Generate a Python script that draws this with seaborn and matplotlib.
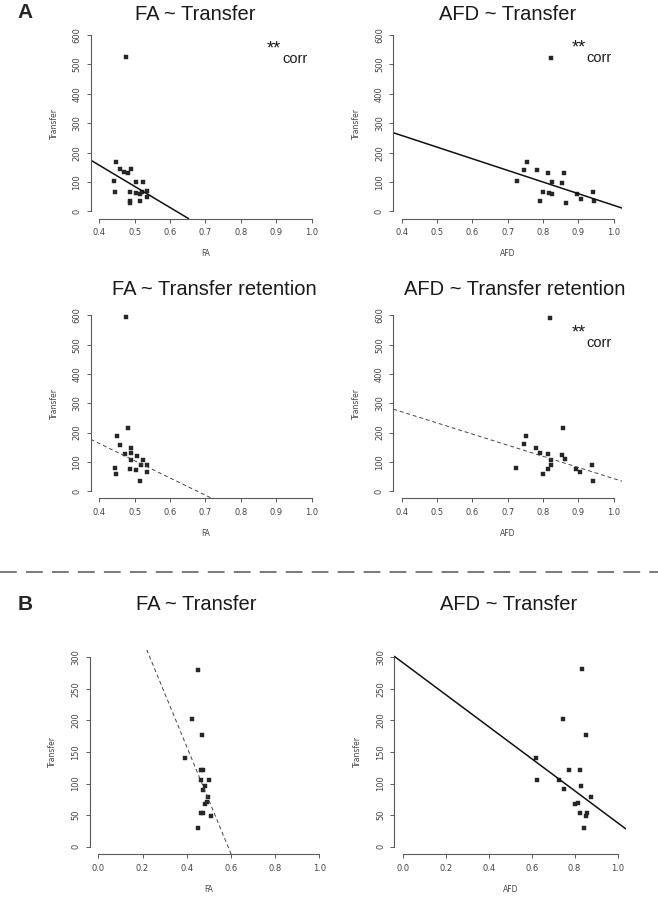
import numpy as np
import pandas as pd
import matplotlib
matplotlib.use("Agg")
import matplotlib.pyplot as plt
from matplotlib.lines import Line2D
import seaborn as sns

# ---- data ----
# A: FA ~ Transfer
fa_transfer_x = [0.476, 0.448, 0.458, 0.471, 0.481, 0.490, 0.442, 0.505, 0.524, 0.445,
                 0.486, 0.504, 0.516, 0.521, 0.535, 0.534, 0.487, 0.487, 0.515]
fa_transfer_y = [524, 168, 143, 134, 132, 143, 104, 99, 101, 67,
                 66, 64, 59, 65, 70, 48, 35, 30, 37]
# A: AFD ~ Transfer
afd_transfer_x = [0.821, 0.754, 0.747, 0.782, 0.815, 0.858, 0.725, 0.824, 0.853, 0.800,
                  0.816, 0.824, 0.895, 0.906, 0.940, 0.943, 0.792, 0.864]
afd_transfer_y = [521, 167, 142, 141, 131, 130, 103, 99, 97, 66,
                  64, 58, 61, 43, 67, 36, 34, 28]
# A: FA ~ Transfer retention
fa_retention_x = [0.476, 0.482, 0.449, 0.459, 0.472, 0.490, 0.489, 0.490, 0.506, 0.525,
                  0.444, 0.447, 0.488, 0.505, 0.518, 0.536, 0.534, 0.516]
fa_retention_y = [593, 215, 187, 159, 127, 148, 130, 108, 120, 107,
                  80, 59, 75, 72, 88, 88, 65, 34]
# A: AFD ~ Transfer retention
afd_retention_x = [0.820, 0.857, 0.752, 0.747, 0.781, 0.791, 0.814, 0.852, 0.823, 0.863,
                   0.822, 0.815, 0.724, 0.800, 0.894, 0.904, 0.939, 0.942]
afd_retention_y = [591, 216, 188, 160, 149, 130, 127, 123, 108, 110,
                   89, 76, 80, 60, 74, 66, 89, 34]
# B: FA ~ Transfer
fa_b_x = [0.453, 0.426, 0.471, 0.394, 0.467, 0.476, 0.464, 0.499, 0.482,
          0.476, 0.496, 0.494, 0.482, 0.467, 0.476, 0.512, 0.450]
fa_b_y = [280, 202, 176, 140, 121, 121, 105, 105, 96,
          90, 78, 70, 67, 54, 53, 49, 30]
# B: AFD ~ Transfer
afd_b_x = [0.836, 0.746, 0.853, 0.619, 0.623, 0.775, 0.825, 0.729, 0.752,
           0.830, 0.876, 0.802, 0.816, 0.825, 0.859, 0.853, 0.843]
afd_b_y = [281, 202, 177, 140, 105, 121, 122, 105, 91,
           96, 78, 67, 69, 54, 53, 48, 30]

# fitted lines (intercept, slope) as drawn in the figure
fit_intercept = [445.3, 416.7, 398.5, 422.9, 497.0, 291.0]
fit_slope = [-720.0, -396.0, -589.0, -380.0, -846.0, -253.0]

titles = ["FA ~ Transfer", "AFD ~ Transfer", "FA ~ Transfer retention",
          "AFD ~ Transfer retention", "FA ~ Transfer", "AFD ~ Transfer"]
xlabels = ["FA", "AFD", "FA", "AFD", "FA", "AFD"]
dashed = [False, False, True, True, True, False]
corr_flag = [True, True, False, True, False, False]

a_xticks = [0.4, 0.5, 0.6, 0.7, 0.8, 0.9, 1.0]
a_yticks = [0, 100, 200, 300, 400, 500, 600]
b_xticks = [0.0, 0.2, 0.4, 0.6, 0.8, 1.0]
b_yticks = [0, 50, 100, 150, 200, 250, 300]

panels = [
    (fa_transfer_x, fa_transfer_y),
    (afd_transfer_x, afd_transfer_y),
    (fa_retention_x, fa_retention_y),
    (afd_retention_x, afd_retention_y),
    (fa_b_x, fa_b_y),
    (afd_b_x, afd_b_y),
]

sns.set_style("white")
plt.rcParams['font.family'] = ['DejaVu Sans']

W, H = 658, 899
fig = plt.figure(figsize=(W / 100, H / 100), dpi=100)

# axes boxes in pixels: left, top, right, bottom
boxes = [
    (90.7, 28.0, 320.2, 218.5),
    (393.3, 28.0, 622.3, 218.5),
    (90.7, 308.4, 320.2, 498.2),
    (393.3, 308.4, 622.3, 498.2),
    (89.5, 649.5, 328.0, 854.3),
    (394.4, 649.5, 626.1, 854.3),
]
# title centres in pixels
title_pos = [(195, 14), (507.7, 14), (214, 289.5), (515, 289.5), (196, 604), (509, 604)]
corr_pos = [(267, 63), (571.7, 62), None, (571.7, 347), None, None]

grey = '#5a5a5a'
for i, ((xs, ys), (l, t, r, b)) in enumerate(zip(panels, boxes)):
    ax = fig.add_axes([l / W, 1 - b / H, (r - l) / W, (b - t) / H])
    df = pd.DataFrame({'x': xs, 'y': ys})
    sns.scatterplot(data=df, x='x', y='y', ax=ax, marker='s', s=9,
                    color='#262626', linewidth=0.3, edgecolor='#262626')
    ax.axline((0, fit_intercept[i]), slope=fit_slope[i], color='#111111' if not dashed[i] else '#444444',
              lw=1.1 if not dashed[i] else 0.7, ls=(0, (4, 3)) if dashed[i] else '-')
    if i < 4:
        xt, yt = a_xticks, a_yticks
    else:
        xt, yt = b_xticks, b_yticks
    xr = xt[-1] - xt[0]
    yr = yt[-1] - yt[0]
    ax.set_xlim(xt[0] - 0.04 * xr, xt[-1] + 0.04 * xr)
    ax.set_ylim(yt[0] - 0.04 * yr, yt[-1] + 0.04 * yr)
    ax.set_xticks(xt)
    ax.set_yticks(yt)
    ax.set_xticklabels([f"{v:.1f}" for v in xt])
    ax.set_yticklabels([str(v) for v in yt])
    for s in ['top', 'right']:
        ax.spines[s].set_visible(False)
    ax.spines['left'].set_bounds(yt[0], yt[-1])
    ax.spines['bottom'].set_bounds(xt[0], xt[-1])
    for s in ['left', 'bottom']:
        ax.spines[s].set_color(grey)
        ax.spines[s].set_linewidth(0.8)
    ax.tick_params(axis='both', direction='out', length=3.2, width=0.7, color=grey,
                   labelsize=6, labelcolor='#444444', pad=3.5, left=True, bottom=True)
    plt.setp(ax.get_yticklabels(), rotation=90, va='center', ha='right')
    ax.set_xlabel(xlabels[i], fontsize=5.5, color='#444444', labelpad=9)
    ax.set_ylabel('Transfer', fontsize=5.5, color='#444444', labelpad=10)
    ax.set_facecolor('white')

    tx, ty = title_pos[i]
    fig.text(tx / W, 1 - ty / H, titles[i], fontsize=14.5, family='Liberation Sans',
             color='#1a1a1a', ha='center', va='center')
    if corr_flag[i]:
        cx, cy = corr_pos[i]
        fig.text(cx / W, 1 - (cy - 10) / H, '**', fontsize=13, family='Liberation Sans',
                 color='#1a1a1a', ha='left', va='baseline')
        fig.text((cx + 15) / W, 1 - cy / H, 'corr', fontsize=10.5, family='Liberation Sans',
                 color='#1a1a1a', ha='left', va='baseline')

# panel letters
fig.text(25 / W, 1 - 13 / H, 'A', fontsize=15, fontweight='bold', family='Liberation Sans',
         ha='center', va='center')
fig.text(25 / W, 1 - 604 / H, 'B', fontsize=15, fontweight='bold', family='Liberation Sans',
         ha='center', va='center')

# separator between A and B
fig.add_artist(Line2D([0, 1], [1 - 571.7 / H, 1 - 571.7 / H], color='#555555', lw=1.1,
                      ls=(0, (11, 6))))

fig.savefig('out.png', dpi=100, facecolor='white')
